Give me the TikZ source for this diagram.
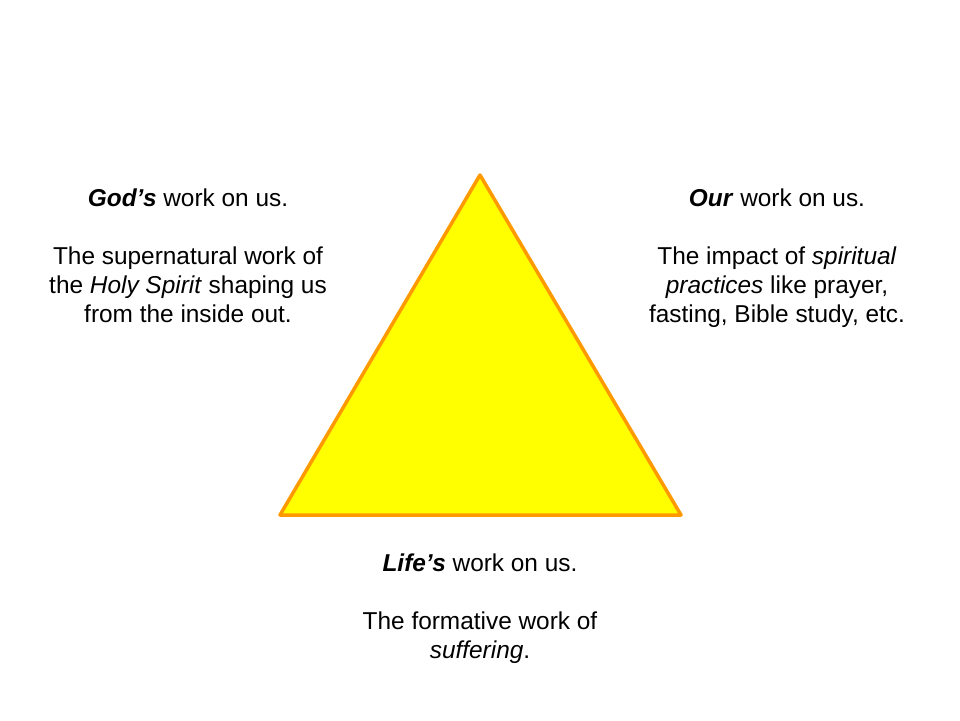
\documentclass[tikz,border=0pt]{standalone}
\usepackage{fontspec}
\setmainfont{Liberation Sans}
\usetikzlibrary{positioning}
\definecolor{triyellow}{HTML}{FFFF00}
\definecolor{triorange}{HTML}{FF9900}

\begin{document}
\begin{tikzpicture}[x=1pt, y=-1pt,
    workbox/.style={align=center, inner sep=0pt, anchor=north,
      font=\fontsize{24.4}{29}\selectfont}]
  \useasboundingbox (0,0) rectangle (960,720);

  % Triangle
  \coordinate (apex) at (480,175);
  \coordinate (left) at (280,515);
  \coordinate (right) at (681,515);
  \draw[triorange, fill=triyellow, line width=3.5pt, line join=round]
    (apex) -- (left) -- (right) -- cycle;

  % Texts
  \node[workbox] (gods) at (188,189) {\textbf{\textit{God’s}} work on us.\\[29pt]
    The supernatural work of\\ the \textit{Holy Spirit} shaping us\\ from the inside out.};
  \node[workbox] (ours) at (777,189) {\textbf{\textit{Our}} work on us.\\[29pt]
    The impact of \textit{spiritual}\\ \textit{practices} like prayer,\\ fasting, Bible study, etc.};
  \node[workbox] (lifes) at (480,554) {\textbf{\textit{Life’s}} work on us.\\[29pt]
    The formative work of\\ \textit{suffering}.};

\end{tikzpicture}
\end{document}
